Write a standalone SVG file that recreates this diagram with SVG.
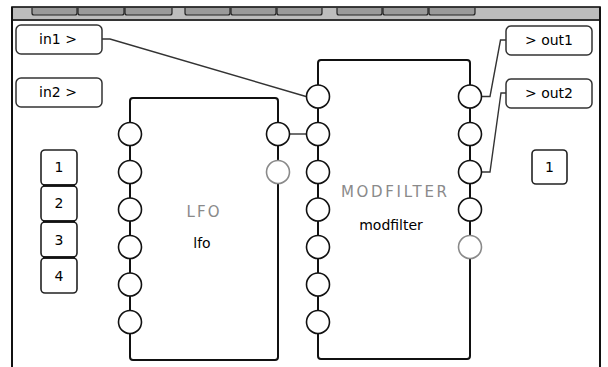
<svg xmlns="http://www.w3.org/2000/svg" width="608" height="367" viewBox="0 0 608 367">
<style>
text{font-family:"DejaVu Sans","Liberation Sans",sans-serif;font-size:14px;fill:#000}
.io{fill:#fff;stroke:#333;stroke-width:1.5}
.num{fill:#fff;stroke:#222;stroke-width:1.6}
.frame{fill:none;stroke:#111;stroke-width:2}
.port{fill:#fff;stroke:#111;stroke-width:1.6}
.gport{fill:#fff;stroke:#8a8a8a;stroke-width:1.6}
.wire{fill:none;stroke:#333;stroke-width:1.4}
.title{fill:#8a8a8a;font-size:15px}
.tab{fill:#9a9a9a;stroke:#222;stroke-width:1.2}
</style>
<rect width="608" height="367" fill="#fff"/>
<g id="toolbar">
<rect x="12" y="7" width="588" height="13" fill="#bdbdbd" stroke="#111" stroke-width="1.6"/>
<line x1="12" y1="20" x2="600" y2="20" stroke="#333" stroke-width="2"/>
<path class="tab" d="M32,8 V13 Q32,15 34,15 H75 Q77,15 77,13 V8"/>
<path class="tab" d="M78,8 V13 Q78,15 80,15 H122 Q124,15 124,13 V8"/>
<path class="tab" d="M125,8 V13 Q125,15 127,15 H170 Q172,15 172,13 V8"/>
<path class="tab" d="M185,8 V13 Q185,15 187,15 H228 Q230,15 230,13 V8"/>
<path class="tab" d="M231,8 V13 Q231,15 233,15 H274 Q276,15 276,13 V8"/>
<path class="tab" d="M277,8 V13 Q277,15 279,15 H320 Q322,15 322,13 V8"/>
<path class="tab" d="M337,8 V13 Q337,15 339,15 H380 Q382,15 382,13 V8"/>
<path class="tab" d="M383,8 V13 Q383,15 385,15 H426 Q428,15 428,13 V8"/>
<path class="tab" d="M429,8 V13 Q429,15 431,15 H473 Q475,15 475,13 V8"/>
<line x1="12" y1="7" x2="12" y2="367" stroke="#111" stroke-width="2"/>
<line x1="600" y1="7" x2="600" y2="367" stroke="#111" stroke-width="2"/>
</g>
<g id="connectors">
<polyline class="wire" points="102,39 110,39 306,96.5"/>
<line class="wire" x1="290" y1="134" x2="306" y2="134"/>
<polyline class="wire" points="482,96.5 490,96.5 500.5,40 506,40"/>
<polyline class="wire" points="482,172 490,172 501,93 506,93"/>
</g>
<g id="in1"><rect class="io" x="16" y="25" width="86" height="29" rx="5"/><text x="58" y="44" text-anchor="middle">in1 &gt;</text></g>
<g id="in2"><rect class="io" x="16" y="78" width="86" height="29" rx="5"/><text x="58" y="97" text-anchor="middle">in2 &gt;</text></g>
<g id="out1"><rect class="io" x="506" y="26" width="86" height="29" rx="5"/><text x="549" y="45" text-anchor="middle">&gt; out1</text></g>
<g id="out2"><rect class="io" x="506" y="79" width="86" height="29" rx="5"/><text x="549" y="98" text-anchor="middle">&gt; out2</text></g>
<g id="n1"><rect class="num" x="41" y="150" width="36" height="35" rx="4"/><text x="59" y="172" text-anchor="middle">1</text></g>
<g id="n2"><rect class="num" x="41" y="186" width="36" height="35" rx="4"/><text x="59" y="208" text-anchor="middle">2</text></g>
<g id="n3"><rect class="num" x="41" y="222" width="36" height="35" rx="4"/><text x="59" y="245" text-anchor="middle">3</text></g>
<g id="n4"><rect class="num" x="41" y="258" width="36" height="35" rx="4"/><text x="59" y="281" text-anchor="middle">4</text></g>
<line x1="43" y1="185.5" x2="75" y2="185.5" stroke="#111" stroke-width="2.5"/>
<line x1="43" y1="221.5" x2="75" y2="221.5" stroke="#111" stroke-width="2.5"/>
<line x1="43" y1="257.5" x2="75" y2="257.5" stroke="#111" stroke-width="2.5"/>
<g id="outnum1"><rect class="num" x="532" y="150" width="35" height="34" rx="4"/><text x="549.5" y="172" text-anchor="middle">1</text></g>
<g id="lfo">
<path class="frame" d="M130,357 V101 Q130,98 133,98 H275 Q278,98 278,101 V357 Q278,360 275,360 H133 Q130,360 130,357 Z"/>
<circle class="port" cx="130" cy="134" r="11.5"/>
<circle class="port" cx="130" cy="172" r="11.5"/>
<circle class="port" cx="130" cy="209.5" r="11.5"/>
<circle class="port" cx="130" cy="247" r="11.5"/>
<circle class="port" cx="130" cy="284.5" r="11.5"/>
<circle class="port" cx="130" cy="322" r="11.5"/>
<circle class="port" cx="278" cy="134" r="11.5"/>
<circle class="gport" cx="278" cy="172" r="11.5"/>
<text class="title" x="203" y="217" text-anchor="middle" textLength="33" lengthAdjust="spacing">LFO</text>
<text x="202" y="248" text-anchor="middle">lfo</text>
</g>
<g id="modfilter">
<path class="frame" d="M318,356 V63 Q318,60 321,60 H467 Q470,60 470,63 V356 Q470,359 467,359 H321 Q318,359 318,356 Z"/>
<circle class="port" cx="318" cy="96.5" r="11.5"/>
<circle class="port" cx="318" cy="134" r="11.5"/>
<circle class="port" cx="318" cy="172" r="11.5"/>
<circle class="port" cx="318" cy="209.5" r="11.5"/>
<circle class="port" cx="318" cy="247" r="11.5"/>
<circle class="port" cx="318" cy="284.5" r="11.5"/>
<circle class="port" cx="318" cy="322" r="11.5"/>
<circle class="port" cx="470" cy="96.5" r="11.5"/>
<circle class="port" cx="470" cy="134" r="11.5"/>
<circle class="port" cx="470" cy="172" r="11.5"/>
<circle class="port" cx="470" cy="209.5" r="11.5"/>
<circle class="gport" cx="470" cy="247" r="11.5"/>
<text class="title" x="394" y="197" text-anchor="middle" textLength="106" lengthAdjust="spacing">MODFILTER</text>
<text x="391" y="230" text-anchor="middle">modfilter</text>
</g>
</svg>
